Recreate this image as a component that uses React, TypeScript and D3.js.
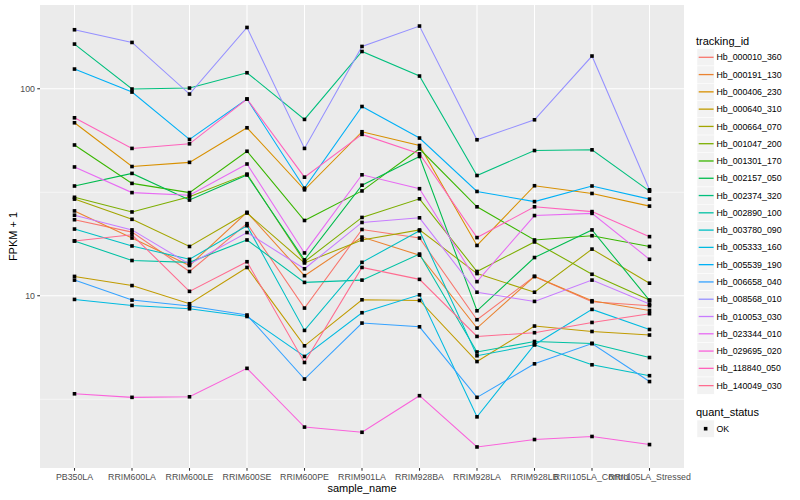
import React from "react";
import * as d3 from "d3";

const sampleNames = [
  "PB350LA", "RRIM600LA", "RRIM600LE", "RRIM600SE", "RRIM600PE", "RRIM901LA",
  "RRIM928BA", "RRIM928LA", "RRIM928LB", "RRII105LA_Control", "RRII105LA_Stressed",
];

const trackingIds = [
  "Hb_000010_360", "Hb_000191_130", "Hb_000406_230", "Hb_000640_310", "Hb_000664_070",
  "Hb_001047_200", "Hb_001301_170", "Hb_002157_050", "Hb_002374_320", "Hb_002890_100",
  "Hb_003780_090", "Hb_005333_160", "Hb_005539_190", "Hb_006658_040", "Hb_008568_010",
  "Hb_010053_030", "Hb_023344_010", "Hb_029695_020", "Hb_118840_050", "Hb_140049_030",
];

const seriesColors = [
  "#F8766D", "#EA8331", "#D89000", "#C09B00", "#A3A500", "#7CAE00", "#39B600", "#00BB4E",
  "#00BF7D", "#00C1A3", "#00BFC4", "#00BAE0", "#00B0F6", "#35A2FF", "#9590FF", "#C77CFF",
  "#E76BF3", "#FA62DB", "#FF62BC", "#FF6C90",
];

// FPKM + 1 per sample, in sampleNames order
const hb_000010_360 = [23.3, 20.3, 13.1, 22.3, 8.72, 20.9, 19.0, 7.66, 12.4, 9.35, 8.95];
const hb_000191_130 = [25.7, 19.0, 14.0, 25.3, 12.5, 19.2, 15.7, 6.98, 12.4, 9.46, 8.49];
const hb_000406_230 = [68.5, 42.1, 44.1, 64.8, 32.5, 62.0, 53.2, 17.5, 34.0, 31.2, 27.1];
const hb_000640_310 = [12.4, 11.2, 9.15, 13.7, 5.73, 9.56, 9.49, 4.81, 7.14, 6.72, 6.46];
const hb_000664_070 = [29.3, 23.4, 17.3, 25.1, 14.4, 18.6, 20.8, 12.8, 10.4, 16.8, 11.5];
const hb_001047_200 = [29.9, 25.4, 30.1, 38.7, 14.6, 23.9, 29.4, 13.1, 18.2, 12.7, 9.53];
const hb_001301_170 = [53.5, 34.9, 31.5, 49.9, 23.1, 32.1, 51.3, 26.9, 18.6, 19.5, 17.3];
const hb_002157_050 = [33.9, 39.0, 29.0, 38.3, 14.9, 34.2, 47.1, 8.46, 15.3, 20.8, 9.49];
const hb_002374_320 = [164.4, 99.7, 100.8, 119.5, 71.1, 151.4, 115.2, 38.1, 50.3, 50.7, 32.0];
const hb_002890_100 = [18.4, 14.8, 14.5, 18.6, 11.6, 11.9, 15.9, 5.35, 6.01, 5.88, 5.03];
const hb_003780_090 = [21.0, 17.4, 15.0, 21.8, 6.8, 14.5, 20.6, 5.13, 5.8, 4.64, 4.11];
const hb_005333_160 = [9.6, 8.98, 8.65, 7.94, 5.09, 8.28, 10.1, 2.6, 5.8, 8.59, 6.87];
const hb_005539_190 = [124.5, 96.4, 56.9, 89.2, 33.1, 82.1, 57.8, 31.9, 28.5, 33.9, 29.3];
const hb_006658_040 = [11.9, 9.53, 8.92, 8.07, 3.96, 7.38, 7.08, 3.23, 4.69, 5.88, 3.85];
const hb_008568_010 = [192.8, 167.4, 94.3, 197.8, 51.5, 160.1, 200.9, 56.7, 70.8, 143.9, 32.5];
const hb_010053_030 = [24.5, 20.8, 14.2, 20.2, 13.5, 22.6, 23.8, 10.4, 9.39, 11.9, 9.12];
const hb_023344_010 = [41.9, 31.5, 30.6, 43.3, 16.1, 38.4, 32.9, 11.7, 24.4, 25.0, 15.0];
const hb_029695_020 = [3.36, 3.23, 3.25, 4.46, 2.32, 2.19, 3.29, 1.86, 2.02, 2.09, 1.91];
const hb_118840_050 = [72.4, 51.5, 54.2, 89.2, 37.4, 60.2, 48.5, 19.1, 26.9, 25.5, 19.3];
const hb_140049_030 = [18.4, 19.7, 10.5, 14.6, 4.76, 13.7, 12.0, 6.36, 6.63, 7.43, 8.19];

const seriesValues = [
  hb_000010_360, hb_000191_130, hb_000406_230, hb_000640_310, hb_000664_070,
  hb_001047_200, hb_001301_170, hb_002157_050, hb_002374_320, hb_002890_100,
  hb_003780_090, hb_005333_160, hb_005539_190, hb_006658_040, hb_008568_010,
  hb_010053_030, hb_023344_010, hb_029695_020, hb_118840_050, hb_140049_030,
];

const yMajorTicks = [10, 100];
const yMinorTicks = [Math.sqrt(10), Math.sqrt(1000)];
const statusLabels = ["OK"];

const W = 800;
const H = 500;
const panel = { left: 40, right: 684, top: 5, bottom: 468 };
const FONT = "'Liberation Sans', Arial, Helvetica, sans-serif";

export default function App() {
  const all = seriesValues.flat();
  const lmin = Math.log10(d3.min(all) as number);
  const lmax = Math.log10(d3.max(all) as number);
  const ex = (lmax - lmin) * 0.05;
  const y = d3
    .scaleLog()
    .domain([Math.pow(10, lmin - ex), Math.pow(10, lmax + ex)])
    .range([panel.bottom, panel.top]);
  const x = d3
    .scalePoint<string>()
    .domain(sampleNames)
    .range([panel.left, panel.right])
    .padding(0.6);

  const line = d3
    .line<number>()
    .x((_, i) => x(sampleNames[i]) as number)
    .y((v) => y(v));

  const keyStep = 17.28;
  const keyTop = 48.66;
  const ps = 3.6;

  return (
    <svg
      width={W}
      height={H}
      style={{ position: "absolute", left: 0, top: 0, background: "#fff" }}
      fontFamily={FONT}
    >
      <rect x={0} y={0} width={W} height={H} fill="#fff" />
      <rect
        x={panel.left}
        y={panel.top}
        width={panel.right - panel.left}
        height={panel.bottom - panel.top}
        fill="#EBEBEB"
      />
      {yMinorTicks.map((t, i) => (
        <line key={"mn" + i} x1={panel.left} x2={panel.right} y1={y(t)} y2={y(t)} stroke="#fff" strokeWidth={0.53} />
      ))}
      {yMajorTicks.map((t, i) => (
        <line key={"mj" + i} x1={panel.left} x2={panel.right} y1={y(t)} y2={y(t)} stroke="#fff" strokeWidth={1.07} />
      ))}
      {sampleNames.map((s) => (
        <line key={"vg" + s} x1={x(s)} x2={x(s)} y1={panel.top} y2={panel.bottom} stroke="#fff" strokeWidth={1.07} />
      ))}

      {seriesValues.map((vals, i) => (
        <path key={"l" + i} d={line(vals) as string} fill="none" stroke={seriesColors[i]} strokeWidth={1.07} />
      ))}
      {seriesValues.map((vals, i) =>
        vals.map((v, j) => (
          <rect
            key={"p" + i + "_" + j}
            x={(x(sampleNames[j]) as number) - ps / 2}
            y={y(v) - ps / 2}
            width={ps}
            height={ps}
            fill="#000"
          />
        ))
      )}

      {/* y axis */}
      {yMajorTicks.map((t, i) => (
        <g key={"yt" + i}>
          <line x1={panel.left - 2.75} x2={panel.left} y1={y(t)} y2={y(t)} stroke="#333" strokeWidth={1.07} />
          <text x={panel.left - 5} y={y(t) + 3.1} fontSize={8.8} fill="#4D4D4D" textAnchor="end">
            {d3.format("d")(t)}
          </text>
        </g>
      ))}
      {/* x axis */}
      {sampleNames.map((s) => (
        <g key={"xt" + s}>
          <line x1={x(s)} x2={x(s)} y1={panel.bottom} y2={panel.bottom + 2.75} stroke="#333" strokeWidth={1.07} />
          <text x={x(s)} y={panel.bottom + 12.3} fontSize={8.8} fill="#4D4D4D" textAnchor="middle">
            {s}
          </text>
        </g>
      ))}
      <text x={(panel.left + panel.right) / 2} y={492} fontSize={11} fill="#000" textAnchor="middle">
        sample_name
      </text>
      <text
        transform={`translate(17, ${(panel.top + panel.bottom) / 2}) rotate(-90)`}
        fontSize={11}
        fill="#000"
        textAnchor="middle"
      >
        FPKM + 1
      </text>

      {/* legend: tracking_id */}
      <text x={696} y={44.5} fontSize={11} fill="#000">
        tracking_id
      </text>
      {trackingIds.map((id, i) => {
        const cy = keyTop + keyStep * i + keyStep / 2;
        return (
          <g key={"lg" + id}>
            <rect x={697} y={cy - keyStep / 2} width={keyStep} height={keyStep} fill="#F2F2F2" stroke="#fff" strokeWidth={0.5} />
            <line x1={698.7} x2={713.6} y1={cy} y2={cy} stroke={seriesColors[i]} strokeWidth={1.3} />
            <text x={716.5} y={cy + 3.1} fontSize={8.8} fill="#000">
              {id}
            </text>
          </g>
        );
      })}

      {/* legend: quant_status */}
      <text x={696} y={416} fontSize={11} fill="#000">
        quant_status
      </text>
      {statusLabels.map((s, i) => {
        const cy = 428.7 + i * keyStep;
        return (
          <g key={"qs" + s}>
            <rect x={697} y={cy - keyStep / 2} width={keyStep} height={keyStep} fill="#F2F2F2" stroke="#fff" strokeWidth={0.5} />
            <rect x={697 + keyStep / 2 - ps / 2} y={cy - ps / 2} width={ps} height={ps} fill="#000" />
            <text x={716.5} y={cy + 3.1} fontSize={8.8} fill="#000">
              {s}
            </text>
          </g>
        );
      })}
    </svg>
  );
}
